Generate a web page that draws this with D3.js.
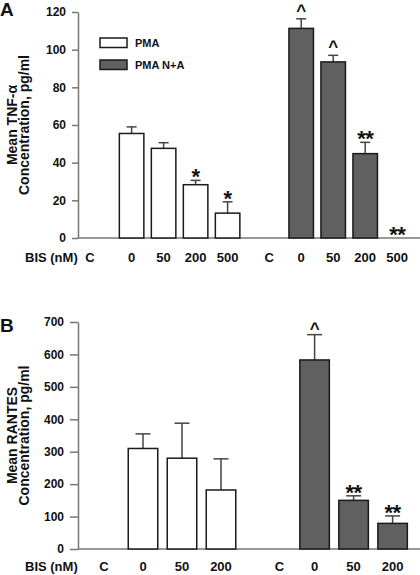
<!DOCTYPE html>
<html><head><meta charset="utf-8">
<script src="https://cdn.jsdelivr.net/npm/d3@7"></script>
<style>
html,body{margin:0;padding:0;background:#fff;}
svg text{font-family:"Liberation Sans",Arial,sans-serif;font-weight:bold;fill:#111;}
</style></head>
<body>
<svg id="chart" width="420" height="575"></svg>
<script>
// ---------- DATA ----------
const seriesNames = ["PMA", "PMA N+A"];

// Panel A: TNF-alpha
const catsA = ["C", "0", "50", "200", "500"];
const pmaA = [null, 55.5, 47.6, 28.3, 13.2];
const pmaErrA = [null, 3.5, 3.0, 2.3, 6.0];
const pmaNA_A = [null, 111.3, 93.5, 44.8, 0];
const pmaNAErrA = [null, 5.1, 3.5, 6.0, 0];
const marksPmaA = ["", "", "", "*", "*"];
const marksPmaNA_A = ["", "^", "^", "**", "**"];
const ticksA = [0, 20, 40, 60, 80, 100, 120];

// Panel B: RANTES
const catsB = ["C", "0", "50", "200"];
const pmaB = [null, 310, 280, 182];
const pmaErrB = [null, 45, 108, 96];
const pmaNA_B = [null, 583, 150, 79];
const pmaNAErrB = [null, 78, 14, 23];
const marksPmaB = ["", "", "", ""];
const marksPmaNA_B = ["", "^", "**", "**"];
const ticksB = [0, 100, 200, 300, 400, 500, 600, 700];

// ---------- LAYOUT ----------
const svg = d3.select("#chart");
const fills = ["#ffffff", "#606060"];

function panel(cfg) {
  const g = svg.append("g");
  const y = d3.scaleLinear().domain([0, cfg.ymax]).range([cfg.y0, cfg.y1]);
  const slots = [];
  cfg.cats.forEach((c, i) => slots.push({g: 0, i, s: i === 0 ? 0 : i + cfg.cOff}));
  cfg.cats.forEach((c, i) => slots.push({g: 1, i, s: cfg.gOff + i + (i === 0 ? 0 : cfg.cOff2)}));
  const x = d3.scaleLinear().domain([0, 1]).range([cfg.xStart, cfg.xStart + cfg.step]);

  // y axis
  const axis = d3.axisLeft(y).tickValues(cfg.ticks).tickSize(cfg.tick).tickPadding(cfg.pad).tickSizeOuter(0);
  const ax = g.append("g").attr("transform", `translate(${cfg.axX},0)`).call(axis);
  ax.select(".domain").attr("stroke", "#777").attr("stroke-width", 1.5);
  ax.selectAll(".tick line").attr("stroke", "#777").attr("stroke-width", 1.5);
  ax.selectAll(".tick text").style("font-size", cfg.tickFont + "px").attr("fill", "#111");
  // baseline
  g.append("line").attr("x1", cfg.axX).attr("x2", 420).attr("y1", y(0)).attr("y2", y(0))
    .attr("stroke", "#777").attr("stroke-width", 1.5);

  const series = [
    {vals: cfg.pma, errs: cfg.pmaErr, marks: cfg.marksPma},
    {vals: cfg.pmaNA, errs: cfg.pmaNAErr, marks: cfg.marksPmaNA}
  ];
  slots.forEach(sl => {
    const sr = series[sl.g];
    const v = sr.vals[sl.i];
    const cx = x(sl.s);
    g.append("text").attr("x", cx).attr("y", cfg.labY).attr("text-anchor", "middle")
      .style("font-size", "13px").text(cfg.cats[sl.i]);
    if (v === null) return;
    const e = sr.errs[sl.i];
    if (v > 0) {
      g.append("line").attr("x1", cx).attr("x2", cx).attr("y1", y(v)).attr("y2", y(v + e))
        .attr("stroke", "#444").attr("stroke-width", 1.5);
      g.append("line").attr("x1", cx - cfg.cap / 2).attr("x2", cx + cfg.cap / 2)
        .attr("y1", y(v + e)).attr("y2", y(v + e)).attr("stroke", "#444").attr("stroke-width", 1.5);
      g.append("rect").attr("x", cx - cfg.bw / 2).attr("width", cfg.bw)
        .attr("y", y(v)).attr("height", y(0) - y(v))
        .attr("fill", fills[sl.g]).attr("stroke", "#1a1a1a").attr("stroke-width", 1.5);
    }
    const m = sr.marks[sl.i];
    if (m) {
      const top = y(v + e);
      const isCaret = m === "^";
      g.append("text").attr("x", cx).attr("y", isCaret ? top + cfg.caretOff : top + cfg.starOff)
        .attr("text-anchor", "middle").attr("letter-spacing", isCaret ? 0 : -0.5)
        .style("font-size", isCaret ? "17px" : "22px").text(m);
    }
  });
  g.append("text").attr("x", 25).attr("y", cfg.labY).style("font-size", "13px").text("BIS (nM)");
  g.append("text").attr("x", 0).attr("y", cfg.letterY).style("font-size", "19px").text(cfg.letter);
  const cy = (cfg.y0 + cfg.y1) / 2;
  g.append("text").attr("transform", `translate(17,${cy}) rotate(-90)`).attr("text-anchor", "middle")
    .style("font-size", "14px").text(cfg.yl1);
  g.append("text").attr("transform", `translate(28.5,${cy}) rotate(-90)`).attr("text-anchor", "middle")
    .style("font-size", "14px").text("Concentration, pg/ml");
  return {x, y, g};
}

const pA = panel({
  cats: catsA, pma: pmaA, pmaErr: pmaErrA, pmaNA: pmaNA_A, pmaNAErr: pmaNAErrA,
  marksPma: marksPmaA, marksPmaNA: marksPmaNA_A, ticks: ticksA, ymax: 120,
  y0: 238, y1: 12, axX: 78, tick: 6, pad: 6, tickFont: 12,
  xStart: 90, step: 32, cOff: 0.3, gOff: 5.6, cOff2: 0,
  bw: 24.5, cap: 10, labY: 262, starOff: 4, caretOff: -3,
  letter: "A", letterY: 16, yl1: "Mean TNF-α"
});
const pB = panel({
  cats: catsB, pma: pmaB, pmaErr: pmaErrB, pmaNA: pmaNA_B, pmaNAErr: pmaNAErrB,
  marksPma: marksPmaB, marksPmaNA: marksPmaNA_B, ticks: ticksB, ymax: 700,
  y0: 549, y1: 322, axX: 78, tick: 8, pad: 6, tickFont: 12,
  xStart: 104, step: 39, cOff: 0, gOff: 4.5, cOff2: -0.1,
  bw: 29.5, cap: 15, labY: 571, starOff: 4, caretOff: -1,
  letter: "B", letterY: 332, yl1: "Mean RANTES"
});

// legend (panel A)
const leg = pA.g.append("g");
seriesNames.forEach((n, i) => {
  leg.append("rect").attr("x", 100).attr("y", 38 + i * 22).attr("width", 27).attr("height", 9.5)
    .attr("fill", fills[i]).attr("stroke", "#1a1a1a").attr("stroke-width", 1.5);
  leg.append("text").attr("x", 135).attr("y", 47 + i * 22).style("font-size", "11px").text(n);
});
</script>
</body></html>
